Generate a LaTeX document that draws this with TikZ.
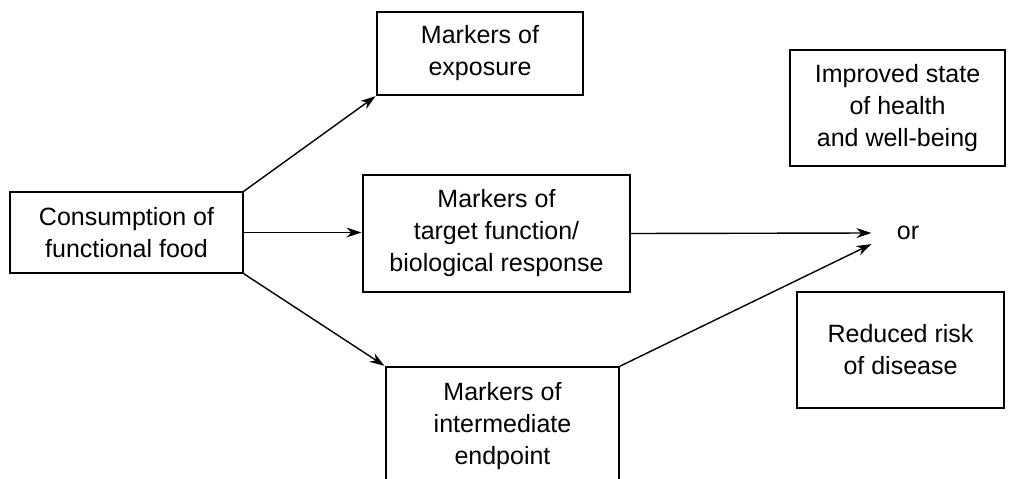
\documentclass[tikz,border=0pt]{standalone}
\usepackage{fontspec}
\setmainfont{Liberation Sans}
\usepackage{tikz}
\usetikzlibrary{
        arrows.meta,
        positioning
    }
\tikzset{>={Stealth[length=15pt,width=10pt]},shorten >=1pt}
\tikzset{marker/.style={draw,line width=1.3pt,inner sep=0pt,align=center,
        font=\fontsize{25}{32}\selectfont}}

\begin{document}
\begin{tikzpicture}[x=1pt,y=-1pt,line width=1.4pt]
                \useasboundingbox (0,0) rectangle (1017,479);
                \clip (0,0) rectangle (1017,479);
                \node[marker,minimum width=233,minimum height=81] (food) at (126.5,232.5)
                    {Consumption of\\functional food};
                \node[marker,minimum width=206,minimum height=83] (expo) at (480,53.5)
                    {Markers of\\exposure};
                \node[marker,minimum width=267,minimum height=117] (target) at (496.5,233.5)
                    {Markers of\\target function/\\biological response};
                \node[marker,minimum width=233,minimum height=118] (inter) at (502.5,426)
                    {Markers of\\intermediate\\endpoint};
                \node[marker,minimum width=215,minimum height=116] (health) at (897.5,108)
                    {Improved state\\of health\\and well-being};
                \node[marker,minimum width=207,minimum height=116] (risk) at (900.5,350)
                    {Reduced risk\\of disease};
                \node[marker,draw=none,minimum width=70,minimum height=20] (or) at (908,233) {or};
                \path[->]
                    (food.north east)  edge  (expo.south west)
                    (food.east)        edge  (food.east -| target.west)
                    (food.south east)  edge  (inter.north west)
                    (target.east)      edge  (or.west)
                    (inter.north east) edge  (or.south west)
                ;
            \end{tikzpicture}
\end{document}
